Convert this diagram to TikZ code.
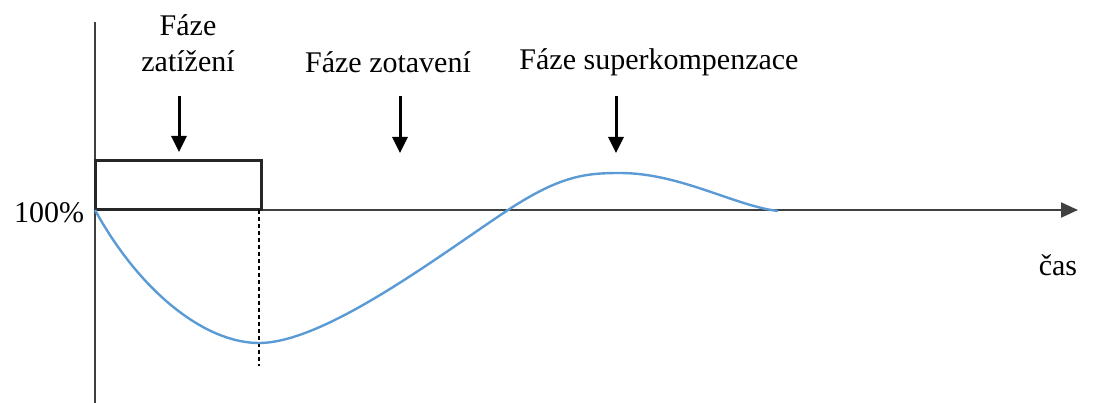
\documentclass[tikz,border=0pt]{standalone}
\usepackage{fontspec}
\setmainfont{Liberation Serif}
\usetikzlibrary{arrows.meta}
\definecolor{curveblue}{RGB}{91,155,213}
\tikzset{
  lbl/.style={inner sep=0pt, font=\fontsize{30}{36}\selectfont, text=black, align=center},
  axis/.style={line width=2pt, draw=black!75},
  phasearrow/.style={line width=3pt, -{Triangle[width=15pt,length=16pt]}},
  loadbox/.style={line width=3pt, draw=black!85},
  curve/.style={line width=2.4pt, draw=curveblue},
}
\begin{document}
\begin{tikzpicture}[x=1pt,y=-1pt]
\useasboundingbox (0,0) rectangle (1093,403);
% axes
\coordinate (ytop) at (95,22);
\coordinate (ybot) at (95,403);
\coordinate (xo) at (95,210);
\coordinate (xend) at (1078,210);
\draw[axis] (ytop) -- (ybot);
\draw[axis, -{Triangle[width=15pt,length=17pt]}] (xo) -- (xend);
% load box
\coordinate (boxa) at (95,161);
\coordinate (boxb) at (261,210);
\draw[loadbox] (boxa) rectangle (boxb);
% dashed
\coordinate (da) at (259,210);
\coordinate (db) at (259,366);
\draw[line width=1.6pt, dash pattern=on 4pt off 3pt] (da) -- (db);
% curve
\coordinate (c0) at (95,210);
\coordinate (c1) at (259,343);
\coordinate (c2) at (508,210);
\coordinate (c3) at (620,173);
\coordinate (c4) at (778,211);
\draw[curve] (c0) .. controls (140,292) and (205,343) .. (c1)
  .. controls (325,343) and (440,255) .. (c2)
  .. controls (560,176) and (585,173) .. (c3)
  .. controls (680,173) and (735,206) .. (c4);
% labels
\node[lbl] (l100) at (49,213) {100\%};
\node[lbl] (lzat) at (188,43) {Fáze\\[0pt]zatížení};
\node[lbl] (lzot) at (388,62) {Fáze zotavení};
\node[lbl] (lsup) at (659,62) {Fáze superkompenzace};
\node[lbl] (lcas) at (1058,265) {čas};
% phase arrows
\coordinate (a1s) at (179,96);
\coordinate (a1e) at (179,152);
\coordinate (a2s) at (400,96);
\coordinate (a2e) at (400,153);
\coordinate (a3s) at (616,96);
\coordinate (a3e) at (616,153);
\draw[phasearrow] (a1s) -- (a1e);
\draw[phasearrow] (a2s) -- (a2e);
\draw[phasearrow] (a3s) -- (a3e);
\end{tikzpicture}
\end{document}
